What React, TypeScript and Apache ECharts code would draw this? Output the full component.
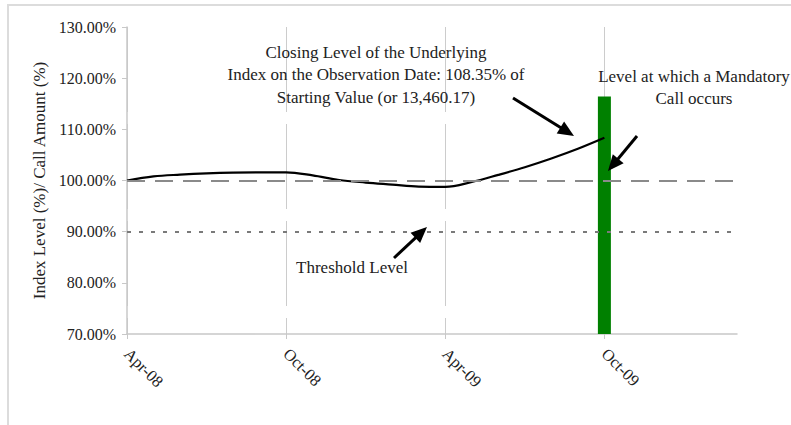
import React, { useEffect, useRef } from "react";
import * as echarts from "echarts";

const months = [
  "Apr-08", "May-08", "Jun-08", "Jul-08", "Aug-08", "Sep-08",
  "Oct-08", "Nov-08", "Dec-08", "Jan-09", "Feb-09", "Mar-09",
  "Apr-09", "May-09", "Jun-09", "Jul-09", "Aug-09", "Sep-09",
  "Oct-09", "Nov-09", "Dec-09", "Jan-10", "Feb-10", "Mar-10",
];
const tickLabels = ["Apr-08", "Oct-08", "Apr-09", "Oct-09"];
const indexLevel: (number | null)[] = [
  100.0, 100.8, 101.15, 101.4, 101.55, 101.6,
  101.6, 101.0, 100.1, 99.6, 99.2, 98.8,
  98.75, 99.7, 101.1, 102.6, 104.3, 106.2,
  108.35, null, null, null, null, null,
];
const callMonth = "Oct-09";
const callAmount = 116.4;
const startingLevel = 100;
const thresholdLevel = 90;
const yTicks = [70, 80, 90, 100, 110, 120, 130];

const FONT = "Liberation Serif";
const TXT = "#222";

function arrow(tx: number, ty: number, hx: number, hy: number) {
  const dx = hx - tx;
  const dy = hy - ty;
  const len = Math.sqrt(dx * dx + dy * dy);
  const ux = dx / len;
  const uy = dy / len;
  const headLen = 16;
  const halfW = 7;
  const bx = hx - ux * headLen;
  const by = hy - uy * headLen;
  return [
    {
      type: "line",
      shape: { x1: tx, y1: ty, x2: bx + ux * 2, y2: by + uy * 2 },
      style: { stroke: "#000", lineWidth: 3 },
      z: 100,
    },
    {
      type: "polygon",
      shape: {
        points: [
          [hx, hy],
          [bx - uy * halfW, by + ux * halfW],
          [bx + uy * halfW, by - ux * halfW],
        ],
      },
      style: { fill: "#000" },
      z: 100,
    },
  ];
}

export default function App() {
  const ref = useRef<HTMLDivElement>(null);
  useEffect(() => {
    if (!ref.current) return;
    const chart = echarts.init(ref.current, null, { renderer: "svg" });
    const labelIdx = new Set(tickLabels.map((t) => months.indexOf(t)));
    const showAt = (i: number) => labelIdx.has(i);
    const callData = months.map((m) => (m === callMonth ? callAmount : null));

    chart.setOption({
      animation: false,
      backgroundColor: "#fff",
      grid: { left: 127, right: 54, top: 27, bottom: 91, containLabel: false },
      xAxis: {
        type: "category",
        data: months,
        boundaryGap: false,
        axisLine: { show: true, lineStyle: { color: "#c8c8c8", width: 1.5 } },
        axisTick: {
          show: true,
          interval: (i: number) => showAt(i),
          length: 5,
          lineStyle: { color: "#c8c8c8" },
        },
        axisLabel: {
          interval: (i: number) => showAt(i),
          rotate: -45,
          margin: 17,
          fontFamily: FONT,
          fontSize: 16.5,
          color: TXT,
        },
        splitLine: {
          show: true,
          interval: (i: number) => showAt(i),
          lineStyle: { color: "#cccccc", width: 1, type: [85, 12] },
        },
      },
      yAxis: {
        type: "value",
        min: 70,
        max: 130,
        interval: 10,
        name: "Index Level (%)/ Call Amount (%)",
        nameLocation: "middle",
        nameGap: 77,
        nameTextStyle: { fontFamily: FONT, fontSize: 17, color: TXT },
        axisLine: { show: true, lineStyle: { color: "#c8c8c8", width: 1.5 } },
        axisTick: { show: true, length: 5, lineStyle: { color: "#c8c8c8" } },
        axisLabel: {
          margin: 11,
          fontFamily: FONT,
          fontSize: 16,
          color: TXT,
          formatter: (v: number) => (yTicks.includes(v) ? v.toFixed(2) + "%" : ""),
        },
        splitLine: { show: false },
      },
      series: [
        {
          name: "Call",
          type: "bar",
          data: callData,
          barWidth: 13,
          itemStyle: { color: "#008000" },
          clip: true,
          z: 1,
        },
        {
          name: "Levels",
          type: "line",
          data: [],
          symbol: "none",
          z: 2,
          markLine: {
            silent: true,
            symbol: "none",
            label: { show: false },
            data: [
              {
                yAxis: startingLevel,
                lineStyle: { color: "#8a8a8a", width: 2.2, type: [18, 10] },
              },
              {
                yAxis: thresholdLevel,
                lineStyle: { color: "#7a7a7a", width: 2, type: [4, 8] },
              },
            ],
          },
        },
        {
          name: "Index",
          type: "line",
          data: indexLevel,
          smooth: 0.35,
          symbol: "none",
          connectNulls: false,
          lineStyle: { color: "#000", width: 2.2 },
          z: 3,
        },
      ],
      graphic: [
        {
          type: "polyline",
          shape: { points: [[8, 425], [8, 5], [791, 5]] },
          style: { stroke: "#dcdcdc", lineWidth: 2, fill: "none" },
          z: 0,
        },
        {
          type: "text",
          x: 376,
          y: 41,
          style: {
            text:
              "Closing Level of the Underlying\nIndex on the Observation Date: 108.35% of\nStarting Value (or 13,460.17)",
            fontFamily: FONT,
            fontSize: 17,
            lineHeight: 22.5,
            fill: TXT,
            textAlign: "center",
          },
          z: 100,
        },
        {
          type: "text",
          x: 694,
          y: 65,
          style: {
            text: "Level at which a Mandatory\nCall occurs",
            fontFamily: FONT,
            fontSize: 17,
            lineHeight: 22.5,
            fill: TXT,
            textAlign: "center",
          },
          z: 100,
        },
        {
          type: "text",
          x: 352,
          y: 259,
          style: {
            text: "Threshold Level",
            fontFamily: FONT,
            fontSize: 17,
            fill: TXT,
            textAlign: "center",
          },
          z: 100,
        },
        ...arrow(513, 98, 574, 136),
        ...arrow(637, 136, 608, 171),
        ...arrow(394, 258, 427, 227),
      ],
    });
    return () => chart.dispose();
  }, []);
  return (
    <div
      ref={ref}
      style={{ position: "fixed", left: 0, top: 0, width: 791, height: 425 }}
    />
  );
}
